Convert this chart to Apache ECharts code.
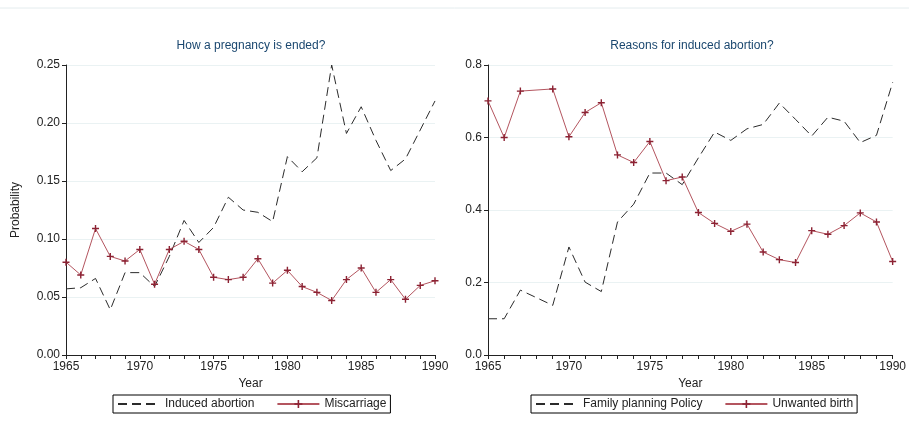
<!DOCTYPE html>
<html>
<head>
<meta charset="utf-8">
<script src="https://cdn.jsdelivr.net/npm/echarts@6/dist/echarts.min.js"></script>
<style>
  html, body { margin: 0; padding: 0; background: #fff; }
  #main { width: 909px; height: 432px; }
</style>
</head>
<body>
<div id="main"></div>
<script>
// years shared by both panels
var years = [1965, 1966, 1967, 1968, 1969, 1970, 1971, 1972, 1973, 1974, 1975, 1976, 1977,
             1978, 1979, 1980, 1981, 1982, 1983, 1984, 1985, 1986, 1987, 1988, 1989, 1990];

// left panel: how a pregnancy is ended
var inducedAbortion = [0.057, 0.058, 0.066, 0.039, 0.071, 0.071, 0.059, 0.085, 0.116, 0.097, 0.110, 0.136, 0.125,
                       0.123, 0.115, 0.171, 0.158, 0.170, 0.250, 0.191, 0.214, 0.185, 0.159, 0.169, 0.194, 0.219];
var miscarriage = [0.080, 0.069, 0.109, 0.085, 0.081, 0.091, 0.061, 0.091, 0.098, 0.091, 0.067, 0.065, 0.067,
                   0.083, 0.062, 0.073, 0.059, 0.054, 0.047, 0.065, 0.075, 0.054, 0.065, 0.048, 0.060, 0.064];

// right panel: reasons for induced abortion (1968 missing)
var familyPlanning = [0.100, 0.100, 0.179, null, 0.137, 0.298, 0.201, 0.175, 0.367, 0.416, 0.502, 0.502, 0.470,
                      0.544, 0.615, 0.592, 0.624, 0.636, 0.695, 0.650, 0.604, 0.656, 0.645, 0.586, 0.606, 0.752];
var unwantedBirth = [0.701, 0.600, 0.728, null, 0.734, 0.602, 0.669, 0.696, 0.552, 0.531, 0.589, 0.481, 0.491,
                     0.393, 0.363, 0.341, 0.361, 0.284, 0.263, 0.255, 0.343, 0.333, 0.357, 0.392, 0.367, 0.258];

var leftTicks = [0, 0.05, 0.10, 0.15, 0.20, 0.25];
var rightTicks = [0, 0.2, 0.4, 0.6, 0.8];

function pairs(vals) {
    var out = [];
    for (var i = 0; i < years.length; i++) {
        out.push([years[i], vals[i]]);
    }
    return out;
}

var axisColor = '#222';
var plusPath = 'path://M4,0h2v4h4v2h-4v4h-2v-4h-4v-2h4z';

function xAxisFor(gridIndex) {
    return {
        type: 'value',
        gridIndex: gridIndex,
        min: 1965,
        max: 1990,
        interval: 5,
        name: 'Year',
        nameLocation: 'middle',
        nameGap: 16,
        nameTextStyle: { color: axisColor, fontSize: 12, fontFamily: 'Liberation Sans' },
        axisLine: { lineStyle: { color: axisColor, width: 1 } },
        axisTick: { length: 4, lineStyle: { color: axisColor } },
        minorTick: { show: true, splitNumber: 5, length: 4, lineStyle: { color: axisColor } },
        splitLine: { show: false },
        axisLabel: {
            color: axisColor, fontSize: 12, margin: 6, fontFamily: 'Liberation Sans',
            formatter: function (v) { return String(v); }
        }
    };
}

function yAxisFor(gridIndex, max, interval, digits, name) {
    return {
        type: 'value',
        gridIndex: gridIndex,
        min: 0,
        max: max,
        interval: interval,
        name: name,
        nameLocation: 'middle',
        nameGap: 44,
        nameTextStyle: { color: axisColor, fontSize: 12, fontFamily: 'Liberation Sans' },
        axisLine: { show: true, lineStyle: { color: axisColor, width: 1 } },
        axisTick: { show: true, length: 4, lineStyle: { color: axisColor } },
        splitLine: { show: true, lineStyle: { color: '#eaf2f3', width: 1 } },
        axisLabel: {
            color: axisColor, fontSize: 12, margin: 6, fontFamily: 'Liberation Sans',
            formatter: function (v) { return v.toFixed(digits); }
        }
    };
}

function dashedSeries(name, vals, idx) {
    return {
        name: name,
        type: 'line',
        xAxisIndex: idx,
        yAxisIndex: idx,
        data: pairs(vals),
        connectNulls: true,
        symbol: 'circle',
        showSymbol: false,
        lineStyle: { color: '#2b2b2b', width: 1, type: [9, 5] },
        itemStyle: { color: 'rgba(0,0,0,0)', borderWidth: 0 }
    };
}

function redSeries(name, vals, idx) {
    return {
        name: name,
        type: 'line',
        xAxisIndex: idx,
        yAxisIndex: idx,
        data: pairs(vals),
        connectNulls: true,
        symbol: plusPath,
        symbolSize: 7,
        showSymbol: true,
        lineStyle: { color: '#b4555f', width: 1 },
        itemStyle: { color: '#8c2233' }
    };
}

function legendFor(left, names) {
    return {
        left: left,
        top: 395,
        data: names,
        orient: 'horizontal',
        borderColor: '#000',
        borderWidth: 1,
        borderRadius: 0,
        padding: [3, 4, 3, 4],
        itemGap: 22,
        itemWidth: 42,
        itemHeight: 10,
        textStyle: { color: '#222', fontSize: 12, fontFamily: 'Liberation Sans' }
    };
}

var chart = echarts.init(document.getElementById('main'));

var option = {
    animation: false,
    backgroundColor: '#fff',
    graphic: [
        { type: 'line', shape: { x1: 0, y1: 8, x2: 909, y2: 8 }, style: { stroke: '#e4ecee', lineWidth: 1 } },
        { type: 'text', x: 251, y: 46, style: { text: 'How a pregnancy is ended?', fill: '#1a476f', fontSize: 12,
            fontFamily: 'Liberation Sans', textAlign: 'center', textVerticalAlign: 'middle' } },
        { type: 'text', x: 692, y: 46, style: { text: 'Reasons for induced abortion?', fill: '#1a476f', fontSize: 12,
            fontFamily: 'Liberation Sans', textAlign: 'center', textVerticalAlign: 'middle' } }
    ],
    legend: [
        legendFor(113, ['Induced abortion', 'Miscarriage']),
        legendFor(531, ['Family planning Policy', 'Unwanted birth'])
    ],
    grid: [
        { left: 66, right: 474, top: 65, bottom: 77 },
        { left: 488, right: 12, top: 65, bottom: 77 }
    ],
    xAxis: [xAxisFor(0), xAxisFor(1)],
    yAxis: [
        yAxisFor(0, leftTicks[leftTicks.length - 1], 0.05, 2, 'Probability'),
        yAxisFor(1, rightTicks[rightTicks.length - 1], 0.2, 1, '')
    ],
    series: [
        dashedSeries('Induced abortion', inducedAbortion, 0),
        redSeries('Miscarriage', miscarriage, 0),
        dashedSeries('Family planning Policy', familyPlanning, 1),
        redSeries('Unwanted birth', unwantedBirth, 1)
    ]
};

chart.setOption(option);
</script>
</body>
</html>
